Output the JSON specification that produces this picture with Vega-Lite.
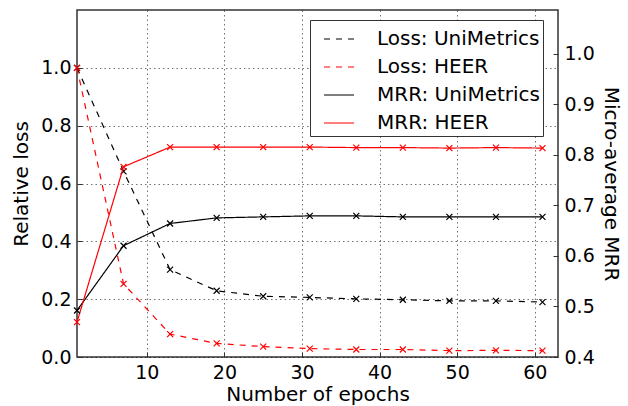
{
  "$schema": "https://vega.github.io/schema/vega-lite/v6.json",
  "autosize": "none",
  "width": 481,
  "height": 347,
  "padding": {"left": 77, "top": 10, "right": 70, "bottom": 49},
  "background": "white",
  "config": {
    "font": "DejaVu Sans",
    "view": {"stroke": "#333", "strokeWidth": 1.5},
    "axis": {
      "labelFontSize": 19,
      "titleFontSize": 20,
      "labelColor": "#000",
      "titleColor": "#000",
      "titleFontWeight": "normal",
      "domain": false,
      "tickColor": "#333",
      "tickSize": -5,
      "tickWidth": 1,
      "labelPadding": 11,
      "gridColor": "#000",
      "gridDash": [1.5, 3],
      "gridWidth": 0.8,
      "gridOpacity": 0.7
    },
    "legend": {
      "labelFontSize": 20,
      "labelColor": "#000",
      "labelFont": "DejaVu Sans",
      "labelLimit": 400
    }
  },
  "datasets": {
    "loss": [
      {"epoch": 1, "series": "Loss: UniMetrics", "method": "UniMetrics", "value": 1.0},
      {"epoch": 7, "series": "Loss: UniMetrics", "method": "UniMetrics", "value": 0.642},
      {"epoch": 13, "series": "Loss: UniMetrics", "method": "UniMetrics", "value": 0.302},
      {"epoch": 19, "series": "Loss: UniMetrics", "method": "UniMetrics", "value": 0.229},
      {"epoch": 25, "series": "Loss: UniMetrics", "method": "UniMetrics", "value": 0.21},
      {"epoch": 31, "series": "Loss: UniMetrics", "method": "UniMetrics", "value": 0.206},
      {"epoch": 37, "series": "Loss: UniMetrics", "method": "UniMetrics", "value": 0.201},
      {"epoch": 43, "series": "Loss: UniMetrics", "method": "UniMetrics", "value": 0.198},
      {"epoch": 49, "series": "Loss: UniMetrics", "method": "UniMetrics", "value": 0.194},
      {"epoch": 55, "series": "Loss: UniMetrics", "method": "UniMetrics", "value": 0.194},
      {"epoch": 61, "series": "Loss: UniMetrics", "method": "UniMetrics", "value": 0.19},
      {"epoch": 1, "series": "Loss: HEER", "method": "HEER", "value": 1.0},
      {"epoch": 7, "series": "Loss: HEER", "method": "HEER", "value": 0.253},
      {"epoch": 13, "series": "Loss: HEER", "method": "HEER", "value": 0.079},
      {"epoch": 19, "series": "Loss: HEER", "method": "HEER", "value": 0.047},
      {"epoch": 25, "series": "Loss: HEER", "method": "HEER", "value": 0.036},
      {"epoch": 31, "series": "Loss: HEER", "method": "HEER", "value": 0.029},
      {"epoch": 37, "series": "Loss: HEER", "method": "HEER", "value": 0.026},
      {"epoch": 43, "series": "Loss: HEER", "method": "HEER", "value": 0.026},
      {"epoch": 49, "series": "Loss: HEER", "method": "HEER", "value": 0.022},
      {"epoch": 55, "series": "Loss: HEER", "method": "HEER", "value": 0.023},
      {"epoch": 61, "series": "Loss: HEER", "method": "HEER", "value": 0.022}
    ],
    "mrr": [
      {"epoch": 1, "series": "MRR: UniMetrics", "method": "UniMetrics", "value": 0.492},
      {"epoch": 7, "series": "MRR: UniMetrics", "method": "UniMetrics", "value": 0.62},
      {"epoch": 13, "series": "MRR: UniMetrics", "method": "UniMetrics", "value": 0.664},
      {"epoch": 19, "series": "MRR: UniMetrics", "method": "UniMetrics", "value": 0.675},
      {"epoch": 25, "series": "MRR: UniMetrics", "method": "UniMetrics", "value": 0.677},
      {"epoch": 31, "series": "MRR: UniMetrics", "method": "UniMetrics", "value": 0.679},
      {"epoch": 37, "series": "MRR: UniMetrics", "method": "UniMetrics", "value": 0.679},
      {"epoch": 43, "series": "MRR: UniMetrics", "method": "UniMetrics", "value": 0.677},
      {"epoch": 49, "series": "MRR: UniMetrics", "method": "UniMetrics", "value": 0.677},
      {"epoch": 55, "series": "MRR: UniMetrics", "method": "UniMetrics", "value": 0.677},
      {"epoch": 61, "series": "MRR: UniMetrics", "method": "UniMetrics", "value": 0.677},
      {"epoch": 1, "series": "MRR: HEER", "method": "HEER", "value": 0.469},
      {"epoch": 7, "series": "MRR: HEER", "method": "HEER", "value": 0.776},
      {"epoch": 13, "series": "MRR: HEER", "method": "HEER", "value": 0.815},
      {"epoch": 19, "series": "MRR: HEER", "method": "HEER", "value": 0.815},
      {"epoch": 25, "series": "MRR: HEER", "method": "HEER", "value": 0.815},
      {"epoch": 31, "series": "MRR: HEER", "method": "HEER", "value": 0.815},
      {"epoch": 37, "series": "MRR: HEER", "method": "HEER", "value": 0.814},
      {"epoch": 43, "series": "MRR: HEER", "method": "HEER", "value": 0.814},
      {"epoch": 49, "series": "MRR: HEER", "method": "HEER", "value": 0.813},
      {"epoch": 55, "series": "MRR: HEER", "method": "HEER", "value": 0.814},
      {"epoch": 61, "series": "MRR: HEER", "method": "HEER", "value": 0.813}
    ]
  },
  "layer": [
    {
      "data": {"name": "loss"},
      "encoding": {
        "x": {
          "field": "epoch", "type": "quantitative",
          "scale": {"domain": [1, 63], "nice": false, "zero": false},
          "axis": {"values": [10, 20, 30, 40, 50, 60], "title": "Number of epochs", "grid": true, "titlePadding": 2}
        },
        "y": {
          "field": "value", "type": "quantitative",
          "scale": {"domain": [0, 1.2], "nice": false, "zero": false},
          "axis": {"orient": "left", "values": [0, 0.2, 0.4, 0.6, 0.8, 1.0], "format": ".1f", "title": "Relative loss", "grid": true, "titlePadding": 9}
        }
      },
      "layer": [
        {
          "mark": {"type": "line", "strokeWidth": 1.2},
          "encoding": {
            "color": {
              "field": "series", "type": "nominal",
              "scale": {"domain": ["Loss: UniMetrics", "Loss: HEER", "MRR: UniMetrics", "MRR: HEER"], "range": ["#000000", "#ff0000", "#000000", "#ff0000"]},
              "legend": {
                "title": null, "orient": "none", "legendX": 233, "legendY": 10,
                "symbolType": "stroke", "symbolSize": 900, "symbolStrokeWidth": 1.2,
                "fillColor": "white", "strokeColor": "#333", "padding": 3,
                "symbolOffset": 10, "labelOffset": 22, "rowPadding": 2
              }
            },
            "strokeDash": {
              "field": "series", "type": "nominal",
              "scale": {"domain": ["Loss: UniMetrics", "Loss: HEER", "MRR: UniMetrics", "MRR: HEER"], "range": [[6, 6], [6, 6], [1, 0], [1, 0]]},
              "legend": {
                "title": null, "orient": "none", "legendX": 233, "legendY": 10,
                "symbolType": "stroke", "symbolSize": 900, "symbolStrokeWidth": 1.2,
                "fillColor": "white", "strokeColor": "#333", "padding": 3,
                "symbolOffset": 10, "labelOffset": 22, "rowPadding": 2
              }
            }
          }
        },
        {
          "mark": {"type": "point", "shape": "M-1,-1L1,1M-1,1L1,-1", "filled": false, "size": 36, "strokeWidth": 1.2, "opacity": 1},
          "encoding": {
            "stroke": {"field": "method", "type": "nominal", "scale": {"domain": ["UniMetrics", "HEER"], "range": ["#000000", "#ff0000"]}, "legend": null}
          }
        }
      ]
    },
    {
      "data": {"name": "mrr"},
      "encoding": {
        "x": {"field": "epoch", "type": "quantitative"},
        "y": {
          "field": "value", "type": "quantitative",
          "scale": {"domain": [0.4, 1.086], "nice": false, "zero": false},
          "axis": {"orient": "right", "values": [0.4, 0.5, 0.6, 0.7, 0.8, 0.9, 1.0], "format": ".1f", "title": "Micro-average MRR", "grid": false, "titlePadding": 6}
        }
      },
      "layer": [
        {
          "mark": {"type": "line", "strokeWidth": 1.2},
          "encoding": {
            "color": {"field": "series", "type": "nominal"},
            "strokeDash": {"field": "series", "type": "nominal"}
          }
        },
        {
          "mark": {"type": "point", "shape": "M-1,-1L1,1M-1,1L1,-1", "filled": false, "size": 36, "strokeWidth": 1.2, "opacity": 1},
          "encoding": {
            "stroke": {"field": "method", "type": "nominal", "legend": null}
          }
        }
      ]
    }
  ],
  "resolve": {"scale": {"y": "independent"}}
}
